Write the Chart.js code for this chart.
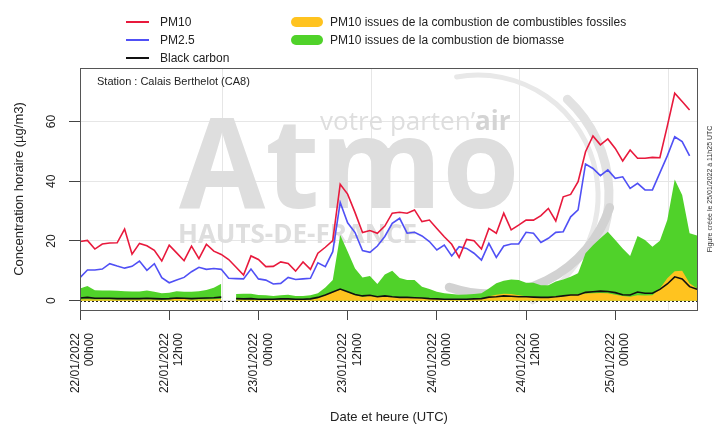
<!DOCTYPE html>
<html>
<head>
<meta charset="utf-8">
<script src="https://cdn.jsdelivr.net/npm/chart.js@4.4.0/dist/chart.umd.min.js"></script>
<style>
  body { margin: 0; background: #fff; }
  #wrap { position: relative; width: 714px; height: 428px; font-family: "Liberation Sans", Arial, sans-serif; }
  #chartCanvas { position: absolute; left: 0; top: 0; }
  .leg { position: absolute; font-size: 12px; line-height: 14px; color: #222; white-space: nowrap; }
  .ln { position: absolute; width: 23px; height: 2px; }
  .pill { position: absolute; width: 32px; height: 10px; border-radius: 5px; }
</style>
</head>
<body>
<div id="wrap">
  <canvas id="chartCanvas" width="714" height="428"></canvas>
  <div class="ln" style="left:126px; top:21px; background:#e8193c"></div>
  <div class="leg" style="left:160px; top:15px">PM10</div>
  <div class="ln" style="left:126px; top:39px; background:#5050f5"></div>
  <div class="leg" style="left:160px; top:33px">PM2.5</div>
  <div class="ln" style="left:126px; top:57px; background:#111"></div>
  <div class="leg" style="left:160px; top:51px">Black carbon</div>
  <div class="pill" style="left:291px; top:17px; background:#ffc31f"></div>
  <div class="leg" style="left:330px; top:15px">PM10 issues de la combustion de combustibles fossiles</div>
  <div class="pill" style="left:291px; top:35px; background:#50d22a"></div>
  <div class="leg" style="left:330px; top:33px">PM10 issues de la combustion de biomasse</div>
</div>
<script>
  // heures depuis le 22/01/2022 00h00 (UTC)
  const heures = Array.from({ length: 84 }, (_, i) => i);

  const pm10 = [19.8, 20.2, 17.3, 19.0, 19.3, 19.4, 24.0, 15.6, 19.2, 18.4,
    16.9, 13.3, 18.6, 16.0, 13.4, 18.3, 14.1, 18.9, 16.6, 15.5,
    13.8, 11.2, 8.6, 15.0, 13.8, 11.4, 11.5, 13.0, 12.5, 9.9,
    13.0, 10.5, 15.9, 17.9, 20.1, 39.0, 35.7, 29.5, 22.8, 23.5,
    22.6, 25.0, 29.3, 29.6, 29.3, 30.4, 26.5, 27.0, 24.2, 21.4,
    18.9, 14.5, 20.5, 20.1, 17.3, 24.2, 22.6, 29.3, 23.7, 25.3,
    27.0, 27.0, 28.5, 30.9, 26.7, 34.8, 35.6, 39.9, 49.9, 55.2,
    52.2, 54.2, 51.0, 46.8, 50.5, 47.7, 47.7, 48.0, 47.9, 58.5,
    69.5, 66.7, 63.9, null];

  const pm25 = [7.7, 10.3, 10.3, 10.6, 12.4, 11.6, 10.9, 11.5, 13.3, 10.2,
    12.4, 7.7, 6.0, 6.9, 7.8, 9.7, 11.2, 10.5, 10.8, 10.5,
    7.5, 7.4, 7.3, 10.6, 7.3, 6.9, 5.6, 5.8, 7.8, 7.1,
    7.3, 7.5, 12.7, 11.4, 16.4, 32.9, 26.1, 22.8, 16.8, 16.2,
    18.3, 21.5, 25.9, 27.6, 22.6, 22.9, 21.7, 19.8, 17.0, 18.6,
    15.0, 18.1, 17.5, 15.9, 13.6, 19.2, 14.5, 18.3, 19.0, 19.0,
    22.9, 22.6, 19.5, 20.9, 22.9, 23.1, 28.1, 30.4, 45.8, 44.3,
    41.9, 43.8, 41.0, 41.5, 37.6, 39.3, 37.1, 37.1, 42.8, 48.5,
    54.9, 53.3, 48.5, null];

  const blackCarbon = [0.9, 1.1, 0.8, 0.8, 0.8, 0.7, 0.7, 0.7, 0.7, 0.8,
    0.7, 0.6, 0.7, 0.9, 0.8, 0.7, 0.8, 0.9, 1.0, 1.2,
    null, 0.7, 0.6, 0.7, 0.5, 0.5, 0.5, 0.6, 0.6, 0.5,
    0.5, 0.6, 1.1, 1.9, 2.9, 3.9, 3.0, 2.1, 1.6, 1.8,
    1.3, 1.6, 1.3, 1.1, 1.1, 1.0, 0.9, 0.7, 0.6, 0.5,
    0.5, 0.5, 0.5, 0.6, 0.7, 1.2, 1.3, 1.6, 1.5, 1.3,
    1.3, 1.2, 1.1, 1.1, 1.3, 1.6, 1.9, 1.9, 2.8, 3.0,
    3.2, 3.1, 2.7, 2.0, 1.9, 2.9, 2.5, 2.5, 3.8, 5.6,
    8.0, 7.3, 4.7, 3.8];

  const fossiles = [0.4, 0.5, 0.4, 0.4, 0.4, 0.4, 0.4, 0.4, 0.4, 0.4,
    0.4, 0.3, 0.4, 0.7, 0.6, 0.4, 0.4, 0.4, 0.5, 0.6,
    null, 0.4, 0.4, 0.4, 0.3, 0.3, 0.3, 0.3, 0.4, 0.3,
    0.3, 0.4, 0.8, 1.8, 2.8, 4.0, 2.8, 1.8, 1.3, 1.6,
    1.2, 1.5, 1.3, 1.1, 1.0, 1.0, 0.9, 0.7, 0.6, 0.5,
    0.5, 0.5, 0.5, 0.6, 0.7, 1.5, 2.0, 2.3, 2.2, 1.8,
    1.5, 1.3, 1.0, 1.2, 1.4, 1.7, 2.0, 2.1, 2.4, 2.5,
    2.6, 2.5, 2.0, 1.6, 1.3, 1.8, 1.7, 1.8, 4.1, 7.5,
    9.9, 10.0, 5.8, 4.1];

  // haut de la surface verte (biomasse)
  const biomasse = [4.1, 4.9, 3.5, 3.4, 3.4, 3.3, 3.2, 3.1, 3.1, 3.4,
    3.0, 2.5, 2.7, 3.2, 3.0, 3.0, 3.2, 3.6, 4.3, 5.7,
    null, 2.2, 2.3, 2.3, 1.9, 1.8, 1.6, 1.8, 2.0, 1.6,
    1.6, 1.8, 2.5, 4.4, 6.9, 22.0, 16.5, 10.8, 7.8, 8.3,
    5.6, 8.8, 10.0, 7.6, 6.9, 6.9, 4.7, 3.9, 3.0, 2.5,
    2.2, 2.0, 2.1, 2.2, 2.5, 4.1, 5.8, 6.7, 7.1, 6.9,
    6.0, 6.0, 5.2, 5.2, 6.4, 7.1, 8.0, 9.2, 15.9, 18.6,
    20.9, 23.1, 20.3, 17.5, 15.0, 21.7, 20.3, 18.1, 20.1, 27.0,
    40.6, 35.4, 22.6, 21.8];

  const tickHeures = [0, 12, 24, 36, 48, 60, 72];
  const tickLabels = [
    ["22/01/2022", "00h00"], ["22/01/2022", "12h00"],
    ["23/01/2022", "00h00"], ["23/01/2022", "12h00"],
    ["24/01/2022", "00h00"], ["24/01/2022", "12h00"],
    ["25/01/2022", "00h00"]
  ];
  const gridHeures = [19.15, 39.15, 59.15, 79.15];
  const yTicks = [0, 20, 40, 60];

  const FONT = "Liberation Sans";

  function pts(arr) {
    return heures.map((h, i) => ({ x: h, y: arr[i] }));
  }

  /********** FILIGRANE ATMO **********/
  const watermark = {
    id: "watermark",
    beforeDatasetsDraw(chart) {
      const { ctx, chartArea: a } = chart;
      ctx.save();
      ctx.beginPath();
      ctx.rect(a.left, a.top, a.right - a.left, a.bottom - a.top);
      ctx.clip();
      ctx.textBaseline = "alphabetic";
      ctx.textAlign = "left";
      ctx.fillStyle = "#dedede";
      ctx.font = 'bold 125px "Open Sans"';
      ctx.fillText("Atmo", 179, 208);
      ctx.font = '26px "Open Sans"';
      ctx.fillText("votre parten\u2019", 320, 130);
      const w = ctx.measureText("votre parten\u2019").width;
      ctx.font = 'bold 26px "Open Sans"';
      ctx.fillStyle = "#d4d4d4";
      ctx.fillText("air", 320 + w, 130);
      ctx.fillStyle = "#dedede";
      ctx.font = 'bold 26px "Open Sans"';
      ctx.fillText("HAUTS-DE-FRANCE", 178, 243);
      ctx.lineCap = "round";
      ctx.strokeStyle = "#e8e8e8";
      ctx.lineWidth = 5;
      ctx.beginPath();
      ctx.arc(478, 195, 120, -1.75, 1.1);
      ctx.stroke();
      ctx.strokeStyle = "#e2e2e2";
      ctx.lineWidth = 9;
      ctx.beginPath();
      ctx.arc(478, 195, 131, -0.82, 0.85);
      ctx.stroke();
      ctx.strokeStyle = "#d2d2d2";
      ctx.beginPath();
      ctx.arc(490, 168, 126, 0.32, 1.9);
      ctx.stroke();
      ctx.restore();
    }
  };

  /********** CADRE, LIGNE ZERO, TEXTES **********/
  const decor = {
    id: "decor",
    afterDatasetsDraw(chart) {
      const { ctx, chartArea: a, scales } = chart;
      const y0 = Math.round(scales.y.getPixelForValue(0)) + 0.5;
      ctx.save();
      ctx.strokeStyle = "#222";
      ctx.lineWidth = 1;
      ctx.setLineDash([2, 2]);
      ctx.beginPath();
      ctx.moveTo(a.left, y0);
      ctx.lineTo(a.right, y0);
      ctx.stroke();
      ctx.setLineDash([]);
      ctx.strokeStyle = "#555";
      ctx.strokeRect(a.left + 0.5, a.top + 0.5, a.right - a.left - 1, a.bottom - a.top);
      ctx.fillStyle = "#222";
      ctx.font = "11px " + FONT;
      ctx.textBaseline = "middle";
      ctx.fillText("Station : Calais Berthelot (CA8)", 97, 82);
      ctx.font = "7px " + FONT;
      ctx.fillStyle = "#333";
      ctx.translate(710.5, (a.top + a.bottom) / 2);
      ctx.rotate(-Math.PI / 2);
      ctx.textAlign = "center";
      ctx.fillText("Figure cr\u00e9\u00e9e le 25/01/2022 \u00e0 11h25 UTC", 0, 0);
      ctx.restore();
    }
  };

  function lineSet(label, arr, color) {
    return { label: label, data: pts(arr), borderColor: color, borderWidth: 1.6,
      pointRadius: 0, fill: false, tension: 0 };
  }
  function areaSet(label, arr, color) {
    return { label: label, data: pts(arr), borderColor: "transparent", borderWidth: 0,
      backgroundColor: color, pointRadius: 0, fill: "origin", tension: 0, spanGaps: false };
  }

  function drawChart() {
    const ctx = document.getElementById("chartCanvas").getContext("2d");
    new Chart(ctx, {
      type: "line",
      data: {
        datasets: [
          lineSet("PM10", pm10, "#e8193c"),
          lineSet("PM2.5", pm25, "#5050f5"),
          lineSet("Black carbon", blackCarbon, "#111111"),
          areaSet("PM10 issues de la combustion de combustibles fossiles", fossiles, "#ffc31f"),
          areaSet("PM10 issues de la combustion de biomasse", biomasse, "#50d22a")
        ]
      },
      options: {
        responsive: false,
        animation: false,
        layout: { padding: { top: 68, right: 16, left: 0, bottom: 0 } },
        plugins: { legend: { display: false }, tooltip: { enabled: false } },
        scales: {
          x: {
            type: "linear", position: "bottom", min: 0, max: 83.13,
            afterBuildTicks: s => { s.ticks = tickHeures.map(v => ({ value: v })); },
            afterFit: s => { s.height = 118; },
            grid: { drawOnChartArea: false, drawTicks: true, tickLength: 10, tickColor: "#444" },
            border: { display: false },
            ticks: {
              autoSkip: false, minRotation: 90, maxRotation: 90, padding: 13, labelOffset: -4.5,
              color: "#222", font: { family: FONT, size: 12, lineHeight: 1.2 },
              callback: (v, i) => tickLabels[i]
            },
            title: { display: true, text: "Date et heure (UTC)", color: "#222",
              font: { family: FONT, size: 13 }, padding: { top: 0, bottom: 3 } }
          },
          xg: {
            type: "linear", position: "top", min: 0, max: 83.13,
            afterBuildTicks: s => { s.ticks = gridHeures.map(v => ({ value: v })); },
            afterFit: s => { s.height = 0; },
            grid: { color: "#e6e6e6", drawTicks: false },
            border: { display: false },
            ticks: { display: false }
          },
          y: {
            min: -3.12, max: 77.95,
            afterBuildTicks: s => { s.ticks = yTicks.map(v => ({ value: v })); },
            afterFit: s => { s.width = 80; },
            grid: { color: "#e6e6e6", tickColor: "#444", tickLength: 11 },
            border: { display: false },
            ticks: { minRotation: 90, maxRotation: 90, crossAlign: "center", padding: 11,
              color: "#222", font: { family: FONT, size: 12 } },
            title: { display: true, text: "Concentration horaire (\u00b5g/m3)", color: "#222",
              font: { family: FONT, size: 13 }, padding: { top: 12, bottom: 0 } }
          }
        }
      },
      plugins: [watermark, decor]
    });
  }

  Promise.all([
    document.fonts.load('bold 125px "Open Sans"'),
    document.fonts.load('26px "Open Sans"'),
    document.fonts.load('12px "Liberation Sans"')
  ]).then(drawChart, drawChart);
</script>
</body>
</html>
